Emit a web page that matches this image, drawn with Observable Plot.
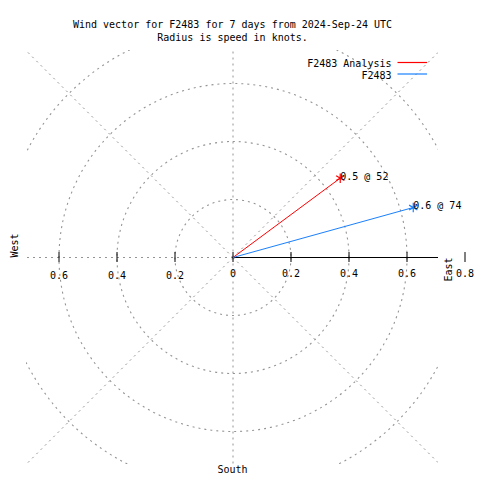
<!DOCTYPE html>
<html><head><meta charset="utf-8">
<script src="https://cdn.jsdelivr.net/npm/d3@7"></script>
<script src="https://cdn.jsdelivr.net/npm/@observablehq/plot@0.6"></script>
<style>body{margin:0;background:#fff}#chart{width:480px;height:480px}</style>
</head><body><div id="chart"></div>
<script>
// ---- data ----
const seriesNames = ["F2483 Analysis", "F2483"];
const seriesColors = ["#ff0000", "#1a80ff"];
const speeds = [0.46, 0.645];          // knots (radius)
const directions = [53.5, 74.5];       // degrees, clockwise from north
const vectorLabels = ["0.5 @ 52", "0.6 @ 74"];
const ringRadii = [0.2, 0.4, 0.6, 0.8];
const spokeAngles = [0, 45, 90, 135, 180, 225, 270, 315];
const xTickValues = [-0.6, -0.4, -0.2];          // west side labels
const xTickLabels = ["0.6", "0.4", "0.2"];
const rTickValues = [0, 0.2, 0.4, 0.6, 0.8];     // east side (radius) labels
const rTickLabels = ["0", "0.2", "0.4", "0.6", "0.8"];
const titleLines = ["Wind vector for F2483 for 7 days from 2024-Sep-24 UTC", "Radius is speed in knots."];

// ---- layout ----
const W = 480, H = 480, PX = 290, CX = 232.5, CY = 257;
const L = 26, R = 438, T = 50, B = 464;
const FONT = "DejaVu Sans Mono";
const GRID = "#949494";
const rad = d => d * Math.PI / 180;

const vectors = seriesNames.map((name, i) => ({
  name, color: seriesColors[i], speed: speeds[i], dir: directions[i], label: vectorLabels[i],
  x: speeds[i] * Math.sin(rad(directions[i])),
  y: speeds[i] * Math.cos(rad(directions[i]))
}));
const xTicks = xTickValues.map((v, i) => ({v, t: xTickLabels[i]}));
const rTicks = rTickValues.map((v, i) => ({v, t: rTickLabels[i]}));
const tickPositions = Array.from(new Set([...xTickValues, ...rTickValues]));
const zero = () => 0;

const chart = Plot.plot({
  width: W, height: H,
  marginLeft: L, marginRight: W - R, marginTop: T, marginBottom: H - B,
  x: {domain: [(L - CX) / PX, (R - CX) / PX], axis: null},
  y: {domain: [(CY - B) / PX, (CY - T) / PX], axis: null},
  r: {type: "linear", domain: [0, 1], range: [0, PX]},
  style: {fontFamily: FONT, fontSize: "10px", background: "white", overflow: "visible"},
  marks: [
    Plot.dot(ringRadii, {x: zero, y: zero, r: d => d, fill: "none", stroke: GRID, strokeWidth: 1.1, strokeDasharray: "2,4", clip: "frame"}),
    Plot.link(spokeAngles, {x1: zero, y1: zero, x2: a => 1.2 * Math.cos(rad(a)), y2: a => 1.2 * Math.sin(rad(a)), stroke: GRID, strokeWidth: 1, strokeDasharray: "2,4", clip: "frame"}),
    Plot.ruleY([0], {x1: 0, x2: 1, stroke: "black", strokeWidth: 1, clip: "frame"}),
    Plot.ruleX(tickPositions, {x: d => d, y1: -5 / PX, y2: 5 / PX, stroke: "black", strokeWidth: 1}),
    Plot.text(xTicks, {x: "v", y: zero, text: "t", dy: 18, fill: "black"}),
    Plot.text(rTicks, {x: "v", y: zero, text: "t", dy: 16, fill: "black"}),
    Plot.link(vectors, {x1: zero, y1: zero, x2: "x", y2: "y", stroke: "color", strokeWidth: 1}),
    Plot.dot(vectors, {x: "x", y: "y", symbol: "asterisk", r: 4.5, stroke: "color", strokeWidth: 1.2}),
    Plot.text(vectors, {x: "x", y: "y", text: "label", textAnchor: "start", dx: 0, dy: -1.5, fill: "black"}),
    Plot.text(["West"], {frameAnchor: "left", dx: -12, rotate: -90, fill: "black"}),
    Plot.text(["East"], {frameAnchor: "right", dx: 10, rotate: -90, fill: "black"}),
    Plot.text(["South"], {frameAnchor: "bottom", dy: 8, fill: "black"}),
    Plot.text([titleLines[0]], {frameAnchor: "top", dy: -30, fill: "black"}),
    Plot.text([titleLines[1]], {frameAnchor: "top", dy: -17, fill: "black"})
  ]
});

// legend (series names + line samples)
const svg = d3.select(chart);
const legend = svg.append("g").attr("font-family", FONT).attr("font-size", 10);
seriesNames.forEach((name, i) => {
  const y = 64 + i * 11.5;
  legend.append("text").attr("x", 391.5).attr("y", y).attr("dy", "0.32em").attr("text-anchor", "end").attr("fill", "black").text(name);
  legend.append("line").attr("x1", 397.5).attr("x2", 427).attr("y1", y - 1.5).attr("y2", y - 1.5).attr("stroke", seriesColors[i]).attr("stroke-width", 1.2);
});

document.getElementById("chart").appendChild(chart);
</script>
</body></html>
